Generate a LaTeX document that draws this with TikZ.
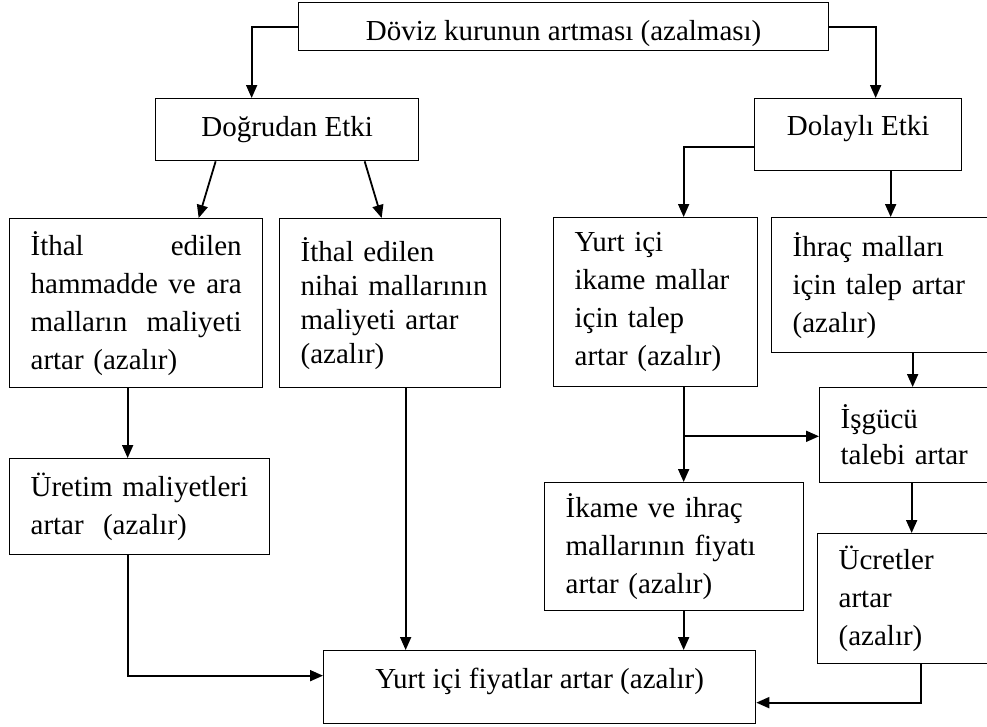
\documentclass[tikz,border=0pt]{standalone}
\usepackage{fontspec}
\setmainfont{Liberation Serif}
\usetikzlibrary{arrows.meta,calc}
\hfuzz=30pt \hbadness=10000
\hyphenpenalty=10000 \exhyphenpenalty=10000
\begin{document}
\begin{tikzpicture}[x=1pt,y=-1pt,
  box/.style={draw, line width=1.3pt, rectangle, inner sep=0pt, anchor=north west,
    font=\fontsize{29}{38}\selectfont},
  tbox/.style={box, align=left, inner xsep=21pt},
  arr/.style={line width=1.8pt, -{Triangle[length=13pt,width=11pt]}},
  ln/.style={line width=1.8pt}]
\useasboundingbox (0,0) rectangle (987,726);
\clip (0,0) rectangle (987,726);

% boxes
\node[box, minimum width=530pt, minimum height=48pt] (top) at (298,2)
  {\raisebox{-14pt}[0pt][0pt]{Döviz kurunun artması (azalması)}};
\node[box, minimum width=263pt, minimum height=62pt] (dog) at (155,98) {Doğrudan Etki};
\node[box, minimum width=207pt, minimum height=72pt] (dol) at (754,98)
  {\raisebox{-1pt}[0pt][0pt]{Dolaylı Etki}};

\node[tbox, text width=211pt, minimum height=169pt] (ham) at (9,218)
  {İthal\hfill edilen\\hammadde\hfill ve\hfill ara\\malların\hfill maliyeti\\artar (azalır)};
\node[tbox, text width=179pt, minimum height=169pt, font=\fontsize{29}{34}\selectfont] (nih) at (279,218)
  {\mbox{İthal edilen}\\\mbox{nihai mallarının}\\\mbox{maliyeti artar}\\(azalır)};
\node[tbox, text width=162pt, minimum height=169pt] (yur) at (553,217)
  {Yurt içi\\ikame mallar\\için talep\\artar (azalır)};
\node[tbox, text width=187pt, minimum height=135pt] (ihr) at (771,217)
  {İhraç malları\\için talep artar\\(azalır)};
\node[tbox, text width=139pt, minimum height=95pt, font=\fontsize{29}{36}\selectfont] (isg) at (819,387)
  {İşgücü\\talebi artar};
\node[tbox, text width=218pt, minimum height=96pt] (ure) at (9,458)
  {Üretim maliyetleri\\artar \ (azalır)};
\node[tbox, text width=217pt, minimum height=128pt] (ika) at (544,482)
  {İkame ve ihraç\\mallarının fiyatı\\artar (azalır)};
\node[tbox, text width=141pt, minimum height=130pt] (ucr) at (817,533)
  {Ücretler\\artar\\(azalır)};
\node[box, minimum width=432pt, minimum height=73pt] (fin) at (323,650)
  {\raisebox{-1.5pt}[0pt][0pt]{Yurt içi fiyatlar artar (azalır)}};

% connectors
\draw[arr] (top.west) -| ($(dog.north)+(-35.5,0)$);
\draw[arr] (top.east) -| ($(dol.north)+(17.5,0)$);
\draw[arr] ($(dog.south)+(-71.5,0)$) -- ($(ham.north)+(62.5,0)$);
\draw[arr] ($(dog.south)+(77.5,0)$) -- ($(nih.north)+(-8.5,0)$);
\draw[arr] ($(dol.west)+(0,12)$) -| ($(yur.north)+(28,0)$);
\coordinate (d2) at ($(dol.south)+(32.5,0)$);
\draw[arr] (d2) -- (d2 |- ihr.north);
\coordinate (i2) at ($(ihr.south)+(26.5,0)$);
\draw[arr] (i2) -- (i2 |- isg.north);
\coordinate (y2) at ($(yur.south)+(28,0)$);
\draw[arr] (y2) -- (y2 |- ika.north);
\coordinate (br) at ($(y2)+(0,49)$);
\draw[arr] (br) -- (br -| isg.west);
\coordinate (g2) at ($(isg.south)+(1.5,0)$);
\draw[arr] (g2) -- (g2 |- ucr.north);
\draw[arr] ($(ucr.south)+(11.5,0)$) |- ($(fin.east)+(0,15.5)$);
\coordinate (k2) at ($(ika.south)+(9.5,0)$);
\draw[arr] (k2) -- (k2 |- fin.north);
\coordinate (h2) at ($(ham.south)+(-8.5,0)$);
\draw[arr] (h2) -- (h2 |- ure.north);
\draw[arr] ($(ure.south)+(-12,0)$) |- ($(fin.west)+(0,-11.5)$);
\coordinate (n2) at ($(nih.south)+(15.5,0)$);
\draw[arr] (n2) -- (n2 |- fin.north);
\end{tikzpicture}
\end{document}
